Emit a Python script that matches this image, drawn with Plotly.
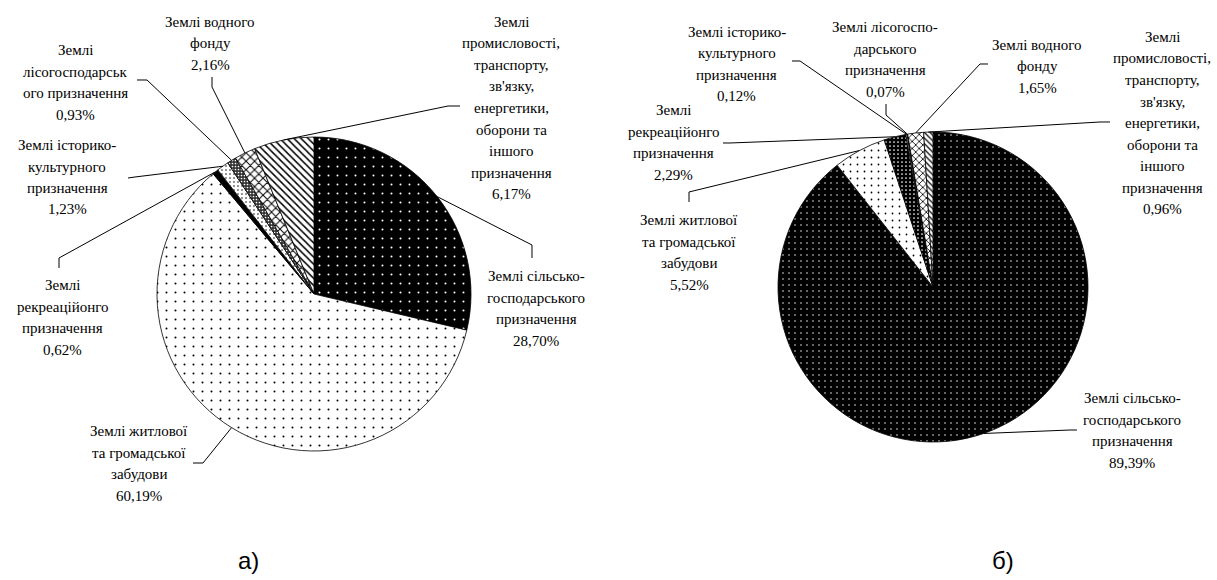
import math
import plotly.graph_objects as go

W, H = 1217, 580

# ---- data ----
categories_a = [
    "Землі сільсько-|господарського|призначення",
    "Землі житлової|та громадської|забудови",
    "Землі|рекреаційонго|призначення",
    "Землі історико-|культурного|призначення",
    "Землі|лісогосподарськ|ого призначення",
    "Землі водного|фонду",
    "Землі|промисловості,|транспорту,|зв'язку,|енергетики,|оборони та|іншого|призначення",
]
categories_b = [
    "Землі сільсько-|господарського|призначення",
    "Землі житлової|та громадської|забудови",
    "Землі|рекреаційонго|призначення",
    "Землі історико-|культурного|призначення",
    "Землі лісогоспо-|дарського|призначення",
    "Землі водного|фонду",
    "Землі|промисловості,|транспорту,|зв'язку,|енергетики,|оборони та|іншого|призначення",
]
values_a = [28.70, 60.19, 0.62, 1.23, 0.93, 2.16, 6.17]
values_b = [89.39, 5.52, 2.29, 0.12, 0.07, 1.65, 0.96]
panel_titles = ["а)", "б)"]

# ---- layout / style (pixels) ----
pie_a = dict(cx=314, cy=294, r=157)
pie_b = dict(cx=933, cy=287, r=155)

# label: (text center x, first line y), leader elbow points (near label)
labels_a = [
    ((536, 276), [(532, 245), (532, 258)]),
    ((139, 431), [(203, 463), (193, 463)]),
    ((62, 285), [(59, 258), (59, 268)]),
    ((67, 145), [(135, 177), (128, 178)]),
    ((75, 50), [(147, 80), (137, 80)]),
    ((210, 22), [(212, 87), (212, 77)]),
    ((511, 22), [(448, 106), (460, 106)]),
]
labels_b = [
    ((1132, 398), [(1070, 430), (1077, 430)]),
    ((689, 220), [(689, 192), (689, 202)]),
    ((673, 110), [(730, 143), (723, 143)]),
    ((737, 32), [(800, 61), (792, 61)]),
    ((885, 27), [(886, 115), (886, 104)]),
    ((1037, 45), [(980, 64), (988, 64)]),
    ((1162, 37), [(1100, 122), (1110, 122)]),
]
title_pos = [(248, 560), (1003, 560)]

pat_a = dict(
    shape=[".", ".", "", ".", ".", "x", "\\"],
    bgcolor=["black", "white", "black", "white", "#333333", "white", "white"],
    fgcolor=["white", "black", "black", "black", "white", "black", "black"],
    size=[9, 9, 4, 4, 3, 6, 5],
    solidity=[0.04, 0.04, 0.2, 0.12, 0.25, 0.3, 0.3],
)
pat_b = dict(
    shape=[".", ".", ".", ".", ".", "x", "\\"],
    bgcolor=["black", "white", "black", "white", "#333333", "white", "white"],
    fgcolor=["white", "black", "white", "black", "white", "black", "black"],
    size=[6, 7, 4, 4, 3, 5, 4],
    solidity=[0.05, 0.05, 0.15, 0.12, 0.25, 0.3, 0.3],
)

LINE_H = 21.5
FONT = "Liberation Serif, 'Times New Roman', 'DejaVu Serif', serif"
FONT_SIZE = 15


def px(x):
    return x / W


def py(y):
    return 1 - y / H


def fmt(v):
    return f"{v:.2f}".replace(".", ",") + "%"


fig = go.Figure()
annotations = []
shapes = []

for cats, vals, pie, labs, pat in [
    (categories_a, values_a, pie_a, labels_a, pat_a),
    (categories_b, values_b, pie_b, labels_b, pat_b),
]:
    cx, cy, r = pie["cx"], pie["cy"], pie["r"]
    fig.add_trace(go.Pie(
        labels=[c.replace("|", " ") for c in cats],
        values=vals,
        sort=False,
        direction="clockwise",
        rotation=0,
        textinfo="none",
        hoverinfo="label+percent",
        showlegend=False,
        domain=dict(x=[px(cx - r), px(cx + r)], y=[py(cy + r), py(cy - r)]),
        marker=dict(
            colors=pat["bgcolor"],
            line=dict(color="black", width=0.8),
            pattern=dict(shape=pat["shape"], bgcolor=pat["bgcolor"],
                         fgcolor=pat["fgcolor"], size=pat["size"],
                         solidity=pat["solidity"], fillmode="replace"),
        ),
    ))
    total = sum(vals)
    cum = 0.0
    for cat, v, ((tx, ty), elbow) in zip(cats, vals, labs):
        mid = (cum + v / 2) / total * 2 * math.pi
        cum += v
        ax = cx + r * math.sin(mid)
        ay = cy - r * math.cos(mid)
        pts = [(ax, ay)] + elbow
        path = "M " + " L ".join(f"{px(x):.5f},{py(y):.5f}" for x, y in pts)
        shapes.append(dict(type="path", xref="paper", yref="paper", path=path,
                           line=dict(color="black", width=1)))
        lines = cat.split("|") + [fmt(v)]
        for i, ln in enumerate(lines):
            annotations.append(dict(
                x=px(tx), y=py(ty + i * LINE_H), xref="paper", yref="paper",
                text=ln, showarrow=False, xanchor="center", yanchor="middle",
                font=dict(family=FONT, size=FONT_SIZE, color="black")))

for t, (x, y) in zip(panel_titles, title_pos):
    annotations.append(dict(x=px(x), y=py(y), xref="paper", yref="paper", text=t,
                            showarrow=False, xanchor="center", yanchor="middle",
                            font=dict(family="Liberation Sans, Arial, sans-serif",
                                      size=24, color="black")))

fig.update_layout(
    width=W, height=H,
    margin=dict(l=0, r=0, t=0, b=0),
    paper_bgcolor="white", plot_bgcolor="white",
    annotations=annotations, shapes=shapes,
)
fig.write_html("out.html", config={"displayModeBar": False},
               post_script="document.body.style.margin='0px';document.body.style.padding='0px';")
